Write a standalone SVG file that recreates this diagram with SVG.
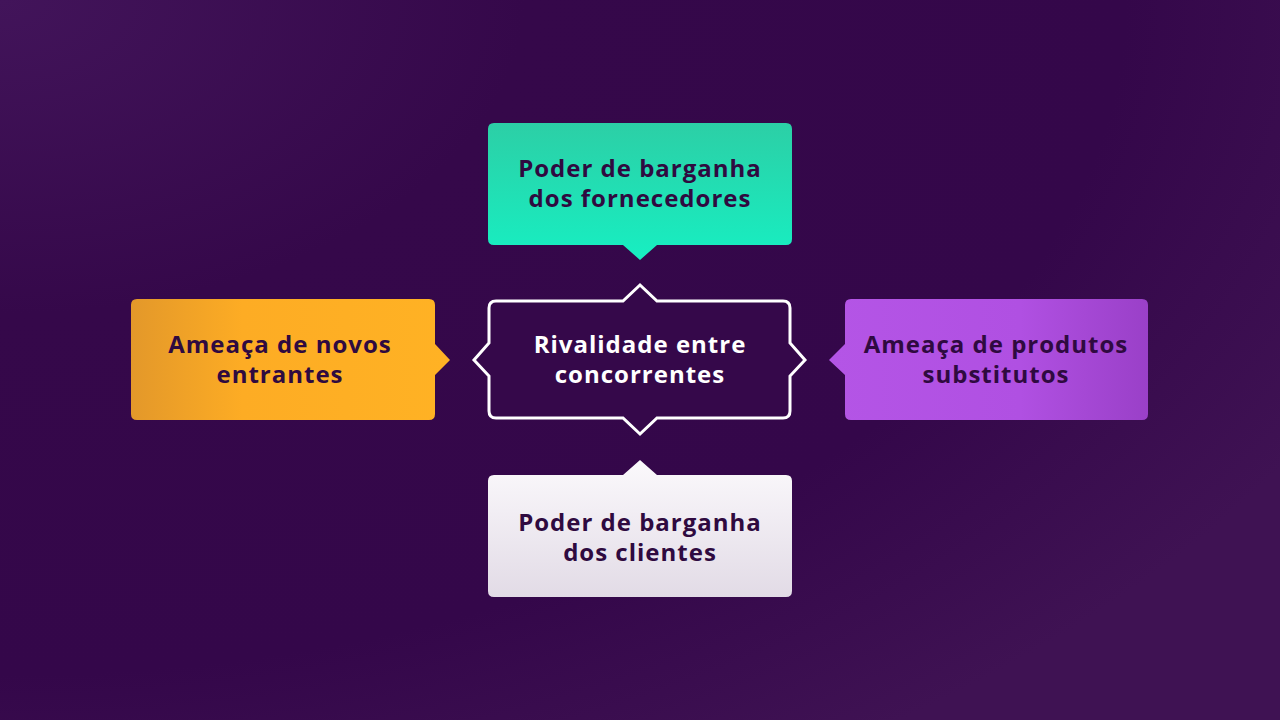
<svg xmlns="http://www.w3.org/2000/svg" width="1280" height="720" viewBox="0 0 1280 720">
<defs>
<radialGradient id="bg" cx="0" cy="0" r="1" gradientUnits="userSpaceOnUse" gradientTransform="translate(0 0) scale(1500 900)">
<stop offset="0" stop-color="#42145a"/>
<stop offset="0.35" stop-color="#35084a"/>
<stop offset="0.75" stop-color="#34074a"/>
<stop offset="1" stop-color="#3f1253"/>
</radialGradient>
<linearGradient id="gTop" x1="0" y1="0" x2="0" y2="1">
<stop offset="0" stop-color="#2ccfa6"/>
<stop offset="1" stop-color="#17efc2"/>
</linearGradient>
<linearGradient id="gLeft" x1="0" y1="0" x2="1" y2="0">
<stop offset="0" stop-color="#e3982a"/>
<stop offset="0.35" stop-color="#fdac24"/>
<stop offset="1" stop-color="#ffb224"/>
</linearGradient>
<linearGradient id="gRight" x1="0" y1="0" x2="1" y2="0">
<stop offset="0" stop-color="#b455e6"/>
<stop offset="0.6" stop-color="#b050e2"/>
<stop offset="1" stop-color="#9a40c8"/>
</linearGradient>
<linearGradient id="gBot" x1="0" y1="0" x2="0" y2="1">
<stop offset="0" stop-color="#fbf9fc"/>
<stop offset="1" stop-color="#e2dbe6"/>
</linearGradient>
<style>
.t{font-family:"Open Sans","DejaVu Sans",sans-serif;font-weight:700;font-size:24px;letter-spacing:1px;text-anchor:middle;fill:#2f0a40}
.w{fill:#ffffff}
</style>
</defs>
<rect width="1280" height="720" fill="url(#bg)"/>
<g id="connectors"></g>
<g id="top">
<path d="M494 123 H786 Q792 123 792 129 V239 Q792 245 786 245 H657 L640 260 L623 245 H494 Q488 245 488 239 V129 Q488 123 494 123 Z" fill="url(#gTop)"/>
<text class="t" x="640" y="177">Poder de barganha</text>
<text class="t" x="640" y="207">dos fornecedores</text>
</g>
<g id="left">
<path d="M137 299 H429 Q435 299 435 305 V344 L450 360 L435 375 V414 Q435 420 429 420 H137 Q131 420 131 414 V305 Q131 299 137 299 Z" fill="url(#gLeft)"/>
<text class="t" x="280" y="353">Ameaça de novos</text>
<text class="t" x="280" y="383">entrantes</text>
</g>
<g id="right">
<path d="M851 299 H1142 Q1148 299 1148 305 V414 Q1148 420 1142 420 H851 Q845 420 845 414 V375 L829 360 L845 344 V305 Q845 299 851 299 Z" fill="url(#gRight)"/>
<text class="t" x="996" y="353">Ameaça de produtos</text>
<text class="t" x="996" y="383">substitutos</text>
</g>
<g id="bottom">
<path d="M494 475 H623 L640 460 L657 475 H786 Q792 475 792 481 V591 Q792 597 786 597 H494 Q488 597 488 591 V481 Q488 475 494 475 Z" fill="url(#gBot)"/>
<text class="t" x="640" y="531">Poder de barganha</text>
<text class="t" x="640" y="561">dos clientes</text>
</g>
<g id="center">
<path d="M496 301 H623 L640 285 L657 301 H783 Q790 301 790 308 V343 L805 360 L790 376 V411 Q790 418 783 418 H657 L640 434 L623 418 H496 Q489 418 489 411 V376 L474 360 L489 343 V308 Q489 301 496 301 Z" fill="#35084a" stroke="#ffffff" stroke-width="3" stroke-linejoin="miter"/>
<text class="t w" x="640" y="353">Rivalidade entre</text>
<text class="t w" x="640" y="383">concorrentes</text>
</g>
</svg>
